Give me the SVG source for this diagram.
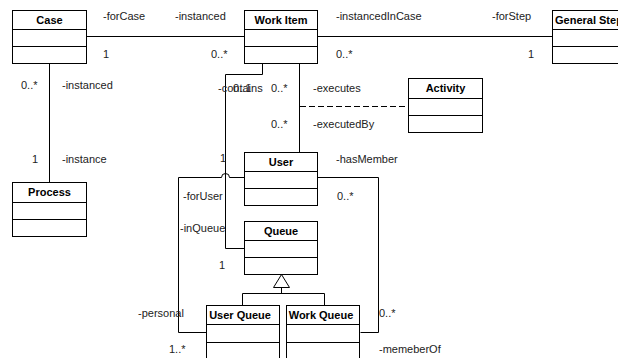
<svg xmlns="http://www.w3.org/2000/svg" width="618" height="358" viewBox="0 0 618 358">
<style>
.box{fill:#fff;stroke:#000;stroke-width:1}
.div{stroke:#000;stroke-width:1}
.t{font-family:"Liberation Sans",Arial,sans-serif;font-size:11px;font-weight:bold;fill:#000;text-anchor:middle}
.l{font-family:"Liberation Sans",Arial,sans-serif;font-size:11px;fill:#222}
.c{fill:none;stroke:#000;stroke-width:1}
.dash{stroke-dasharray:6,3}
</style>
<rect width="618" height="358" fill="#fff"/>
<g id="connectors">
<path class="c" d="M86.5 36.5H244.5"/>
<path class="c" d="M317.5 36.5H552.5"/>
<path class="c" d="M49.5 63.5V182.5"/>
<path class="c" d="M299.5 63.5V152.5"/>
<path class="c dash" d="M300 106.5H408.5"/>
<path class="c" d="M262.5 63.5V74.5H225.5V248.5H244.5"/>
<path class="c" d="M244.5 177.5H229.5A4 4 0 0 0 221.5 177.5H178.5V332.5H206.5"/>
<path class="c" d="M317.5 177.5H378.5V332.5H360.5"/>
<path class="c" d="M281.5 287.5V293.5M242.5 305.5V293.5H324.5V305.5"/>
<path d="M281.5 274.5L273.5 287.5H289.5Z" fill="#fff" stroke="#000"/>
</g>
<g id="labels">
<text class="l" x="103" y="20">-forCase</text>
<text class="l" x="175" y="20">-instanced</text>
<text class="l" x="103" y="58">1</text>
<text class="l" x="211" y="58">0..*</text>
<text class="l" x="336" y="20">-instancedInCase</text>
<text class="l" x="492" y="20">-forStep</text>
<text class="l" x="336" y="58">0..*</text>
<text class="l" x="528" y="58">1</text>
<text class="l" x="21" y="89">0..*</text>
<text class="l" x="62" y="89">-instanced</text>
<text class="l" x="32" y="163">1</text>
<text class="l" x="62" y="163">-instance</text>
<text class="l" x="218" y="92">-contains</text>
<text class="l" x="233" y="92">0..1</text>
<text class="l" x="271" y="92">0..*</text>
<text class="l" x="313" y="92">-executes</text>
<text class="l" x="271" y="128">0..*</text>
<text class="l" x="313" y="128">-executedBy</text>
<text class="l" x="220" y="162">1</text>
<text class="l" x="336" y="163">-hasMember</text>
<text class="l" x="183" y="200">-forUser</text>
<text class="l" x="337" y="200">0..*</text>
<text class="l" x="180" y="232">-inQueue</text>
<text class="l" x="219" y="269">1</text>
<text class="l" x="138" y="317">-personal</text>
<text class="l" x="379" y="317">0..*</text>
<text class="l" x="169" y="353">1..*</text>
<text class="l" x="379" y="353">-memeberOf</text>
</g>
<g id="case">
<rect class="box" x="12.5" y="10.5" width="74" height="53"/>
<path class="div" d="M12.5 29.5H86.5M12.5 46.5H86.5"/>
<text class="t" x="49.5" y="24">Case</text>
</g>
<g id="work-item">
<rect class="box" x="244.5" y="10.5" width="73" height="53"/>
<path class="div" d="M244.5 29.5H317.5M244.5 46.5H317.5"/>
<text class="t" x="281" y="24">Work Item</text>
</g>
<g id="general-step">
<rect class="box" x="552.5" y="10.5" width="74" height="53"/>
<path class="div" d="M552.5 29.5H626.5M552.5 46.5H626.5"/>
<text class="t" x="555" y="24" style="text-anchor:start">General Step</text>
</g>
<g id="activity">
<rect class="box" x="408.5" y="78.5" width="74" height="54"/>
<path class="div" d="M408.5 98.5H482.5M408.5 115.5H482.5"/>
<text class="t" x="445.5" y="92">Activity</text>
</g>
<g id="user">
<rect class="box" x="244.5" y="152.5" width="73" height="53"/>
<path class="div" d="M244.5 171.5H317.5M244.5 188.5H317.5"/>
<text class="t" x="281" y="166">User</text>
</g>
<g id="process">
<rect class="box" x="12.5" y="182.5" width="74" height="54"/>
<path class="div" d="M12.5 202.5H86.5M12.5 219.5H86.5"/>
<text class="t" x="49.5" y="196">Process</text>
</g>
<g id="queue">
<rect class="box" x="244.5" y="221.5" width="73" height="53"/>
<path class="div" d="M244.5 240.5H317.5M244.5 257.5H317.5"/>
<text class="t" x="281" y="235">Queue</text>
</g>
<g id="user-queue">
<rect class="box" x="206.5" y="305.5" width="73" height="60"/>
<path class="div" d="M206.5 324.5H279.5M206.5 342.5H279.5"/>
<text class="t" x="240" y="319">User Queue</text>
</g>
<g id="work-queue">
<rect class="box" x="286.5" y="305.5" width="73" height="60"/>
<path class="div" d="M286.5 324.5H359.5M286.5 342.5H359.5"/>
<text class="t" x="321" y="319">Work Queue</text>
</g>
</svg>
